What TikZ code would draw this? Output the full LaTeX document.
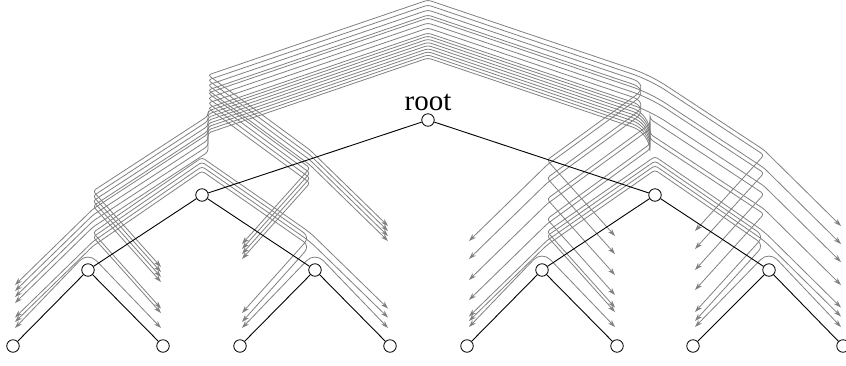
\documentclass[tikz,border=0pt]{standalone}
\usepackage{fontspec}
\setmainfont{Liberation Serif}
\usetikzlibrary{arrows.meta}
\begin{document}
\begin{tikzpicture}[x=1pt,y=-1pt,
  msg/.style={draw=black!50, line width=0.8pt,
    {Stealth[length=7.5pt,width=5pt]}-{Stealth[length=7.5pt,width=5pt]}},
  tnode/.style={circle, draw=black, fill=white, line width=0.8pt, minimum size=12.5pt, inner sep=0pt},
  tedge/.style={draw=black, line width=0.9pt},
  lbl/.style={font=\fontsize{29}{30}\selectfont, anchor=base, inner sep=0pt}]
\useasboundingbox (0,0) rectangle (846,365);

% ---- messages crossing the root ----
\foreach \ia in {0,...,3}{
 \foreach \jb in {0,...,3}{
  \pgfmathtruncatemacro{\k}{4*\ia+\jb}
  \pgfmathsetmacro{\g}{{62,65.1,68.3,71.4,74.6,77.7,80.9,84,87,92,97,102,105,110,115,120}[\k]}
  \pgfmathsetmacro{\xa}{{15,161,242,388}[\ia]}
  \ifcase\ia\relax
    \pgfmathsetmacro{\eL}{43+6*\jb}
    \edef\pthL{-- (93,270-\eL) -- (208,195-\eL) -- (208,195-\g)}
  \or
    \pgfmathsetmacro{\eL}{64+5*\jb}
    \edef\pthL{-- (93,270-\eL) -- (208,195-\eL) -- (208,195-\g)}
  \or
    \pgfmathsetmacro{\eL}{\g}
    \edef\pthL{-- (310,270-\g) -- (208,195-\g)}
  \or
    \pgfmathsetmacro{\eL}{\g}
    \edef\pthL{-- (310,270-\g) -- (208,195-\g)}
  \fi
  \pgfmathsetmacro{\xb}{{469,615,695,841}[\jb]}
  \pgfmathsetmacro{\cb}{{547,547,764,764}[\jb]}
  \pgfmathsetmacro{\eR}{{46,66,86,104}[\ia]+5*\jb}
  \pgfmathsetmacro{\gapR}{\g-\eR}
  \ifdim\gapR pt<4pt
    \edef\pthR{-- (\cb,270-\g) -- (\xb,346-\g)}
  \else
    \edef\pthR{-- (650,195-\eR) -- (\cb,270-\eR) -- (\xb,346-\eR)}
  \fi
  \draw[msg, rounded corners=3pt] (\xa,346-\eL) \pthL -- (428,120-\g)
     [rounded corners=18pt] -- (650,195-\g) [rounded corners=3pt] \pthR;
 }}

% ---- siblings ----
\draw[msg, rounded corners=12pt] (15,328) -- (88,252) -- (161,328);
\draw[msg, rounded corners=12pt] (242,328) -- (315,252) -- (388,328);
\draw[msg, rounded corners=12pt] (469,327) -- (542,251) -- (615,327);
\draw[msg, rounded corners=12pt] (695,327) -- (769,251) -- (841,327);

% ---- cousins ----
\foreach \a in {0,1}{
 \foreach \c in {0,1}{
  \pgfmathsetmacro{\o}{24+4.5*(2*\a+\c)}
  \pgfmathsetmacro{\xa}{{15,161}[\a]}
  \pgfmathsetmacro{\xc}{{242,388}[\c]}
  \draw[msg, rounded corners=3pt] (\xa,346-\o) -- (93,270-\o) -- (202,195-\o)
     [rounded corners=8pt] -- (310,270-\o) [rounded corners=3pt] -- (\xc,346-\o);
  \pgfmathsetmacro{\p}{25+4.5*(2*\a+\c)}
  \pgfmathsetmacro{\xa}{{469,615}[\a]}
  \pgfmathsetmacro{\xc}{{695,841}[\c]}
  \draw[msg, rounded corners=3pt] (\xa,346-\p) -- (547,270-\p) -- (655,195-\p)
     [rounded corners=8pt] -- (764,270-\p) [rounded corners=3pt] -- (\xc,346-\p);
 }}

% ---- tree ----
\node[lbl] (rl) at (428,110) {root};
\node[tnode] (r) at (428,120) {};
\node[tnode] (a) at (202,195) {};
\node[tnode] (b) at (655,195) {};
\node[tnode] (a1) at (88,270) {};
\node[tnode] (a2) at (315,270) {};
\node[tnode] (b1) at (542,270) {};
\node[tnode] (b2) at (769,270) {};
\node[tnode] (l1) at (13,346) {};
\node[tnode] (l2) at (163,346) {};
\node[tnode] (l3) at (240,346) {};
\node[tnode] (l4) at (390,346) {};
\node[tnode] (l5) at (467,346) {};
\node[tnode] (l6) at (617,346) {};
\node[tnode] (l7) at (693,346) {};
\node[tnode] (l8) at (843,346) {};
\draw[tedge] (r) -- (a) (r) -- (b)
  (a) -- (a1) (a) -- (a2) (b) -- (b1) (b) -- (b2)
  (a1) -- (l1) (a1) -- (l2) (a2) -- (l3) (a2) -- (l4)
  (b1) -- (l5) (b1) -- (l6) (b2) -- (l7) (b2) -- (l8);
\end{tikzpicture}
\end{document}
